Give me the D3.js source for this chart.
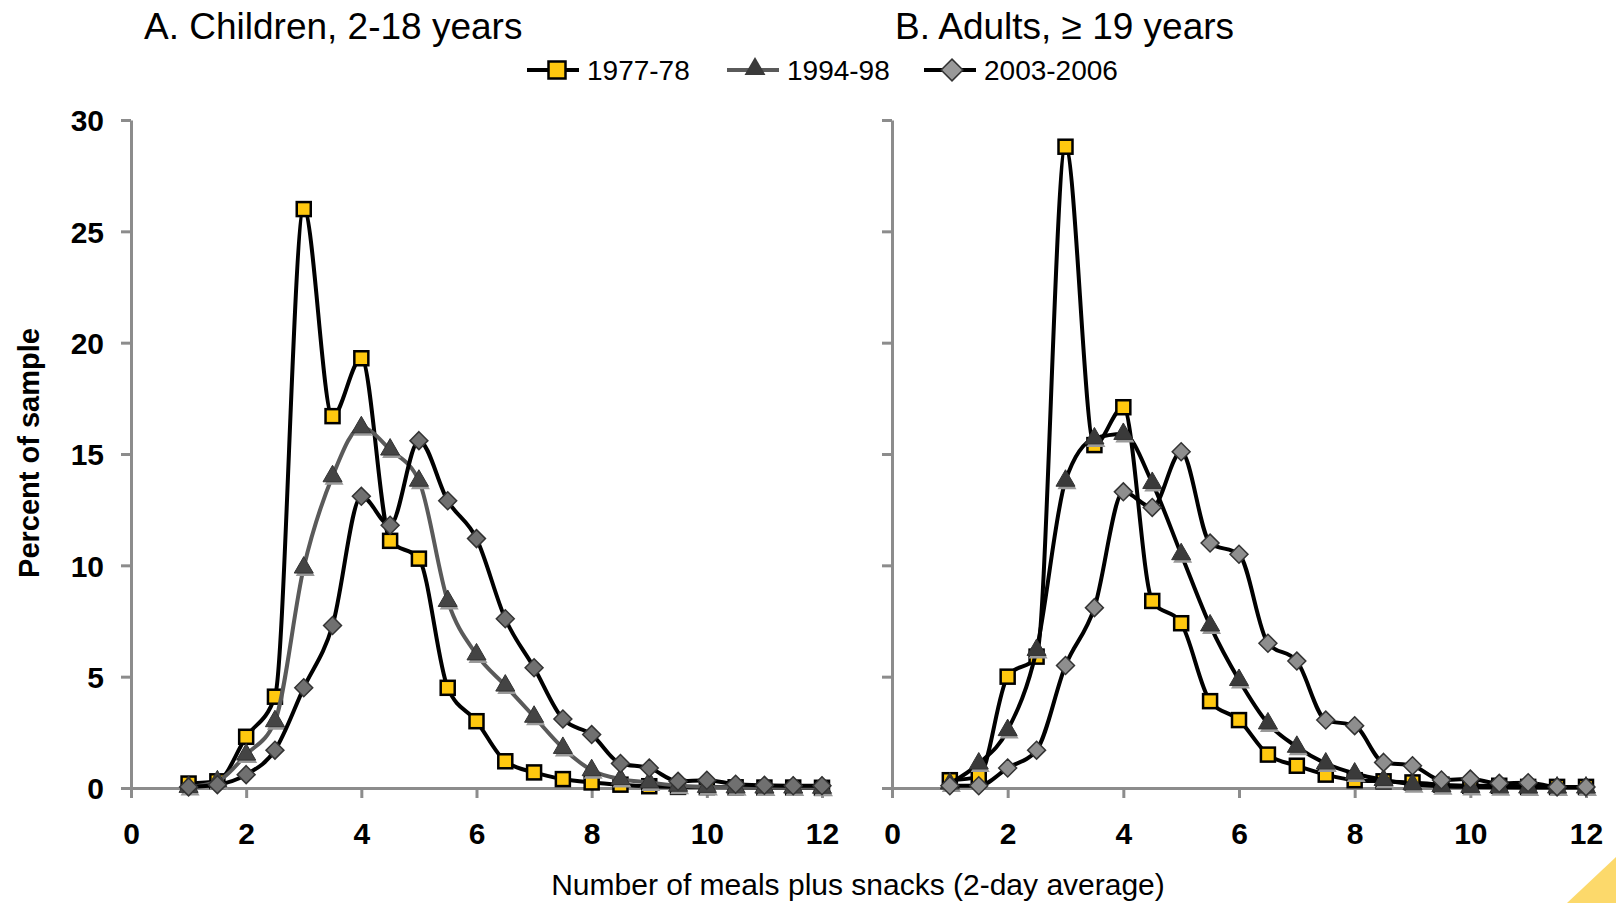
<!DOCTYPE html>
<html>
<head>
<meta charset="utf-8">
<script src="https://cdn.jsdelivr.net/npm/d3@7"></script>
<style>
  body { margin: 0; background: #fff; }
  svg { display: block; font-family: "Liberation Sans", Arial, sans-serif; }
</style>
</head>
<body>
<svg width="1616" height="903"></svg>
<script>
// meals plus snacks, 2-day average
var meals = [1, 1.5, 2, 2.5, 3, 3.5, 4, 4.5, 5, 5.5, 6, 6.5, 7, 7.5, 8, 8.5, 9, 9.5, 10, 10.5, 11, 11.5, 12];

var seriesNames = ["1977-78", "1994-98", "2003-2006"];
var panelTitles = ["A. Children, 2-18 years", "B. Adults, \u2265 19 years"];

var children7778 = [0.2, 0.3, 2.3, 4.1, 26.0, 16.7, 19.3, 11.1, 10.3, 4.5, 3.0, 1.2, 0.7, 0.4, 0.25, 0.15, 0.08, 0.05, 0.04, 0.03, 0.02, 0.02, 0.01];
var children9498 = [0.05, 0.3, 1.5, 3.0, 9.9, 14.0, 16.2, 15.2, 13.8, 8.4, 6.0, 4.6, 3.2, 1.8, 0.8, 0.4, 0.25, 0.1, 0.05, 0.03, 0.02, 0.02, 0.01];
var children0306 = [0.05, 0.15, 0.6, 1.7, 4.5, 7.3, 13.1, 11.8, 15.6, 12.9, 11.2, 7.6, 5.4, 3.1, 2.4, 1.1, 0.9, 0.3, 0.35, 0.17, 0.12, 0.1, 0.1];

var adults7778 = [0.35, 0.5, 5.0, 5.9, 28.8, 15.4, 17.1, 8.4, 7.4, 3.9, 3.05, 1.5, 1.0, 0.6, 0.35, 0.3, 0.25, 0.15, 0.1, 0.1, 0.05, 0.05, 0.05];
var adults9498 = [0.2, 1.1, 2.6, 6.2, 13.8, 15.7, 15.9, 13.7, 10.5, 7.3, 4.85, 2.9, 1.85, 1.1, 0.65, 0.36, 0.17, 0.08, 0.05, 0.03, 0.02, 0.02, 0.02];
var adults0306 = [0.1, 0.1, 0.9, 1.7, 5.5, 8.1, 13.3, 12.6, 15.1, 11.0, 10.5, 6.5, 5.7, 3.05, 2.8, 1.15, 1.0, 0.36, 0.4, 0.21, 0.24, 0.05, 0.05];

var yTicks = [0, 5, 10, 15, 20, 25, 30];
var xTicks = [0, 2, 4, 6, 8, 10, 12];

var svg = d3.select("svg");
var axisColor = "#8c8c8c";
var yellow = "#ffc80f";

var y = d3.scaleLinear().domain([0, 30]).range([788, 120]);

var panels = [
  {title: panelTitles[0], titleX: 144, range: [131, 822], labels: true,
   data: [children7778, children9498, children0306],
   lineColor: ["#000", "#5a5a5a", "#000"], markFill: [yellow, "#444", "#707070"]},
  {title: panelTitles[1], titleX: 895, range: [892, 1586], labels: false,
   data: [adults7778, adults9498, adults0306],
   lineColor: ["#000", "#000", "#000"], markFill: [yellow, "#3a3a3a", "#8e8e8e"]}
];

function marker(sel, k, fill, size) {
  if (k === 0) {
    sel.append("rect").attr("x", -size / 2).attr("y", -size / 2)
      .attr("width", size).attr("height", size)
      .attr("fill", fill).attr("stroke", "#000").attr("stroke-width", 2.5);
  } else if (k === 1) {
    sel.append("path").attr("d", d3.symbol(d3.symbolTriangle, size * size * 0.8)())
      .attr("transform", "translate(1.5,3)").attr("fill", "#9a9a9a");
    sel.append("path").attr("d", d3.symbol(d3.symbolTriangle, size * size * 0.8)())
      .attr("fill", fill).attr("stroke", "#333").attr("stroke-width", 1);
  } else {
    var r = size * 0.64;
    sel.append("path").attr("d", "M0," + (-r) + "L" + r + ",0L0," + r + "L" + (-r) + ",0Z")
      .attr("fill", fill).attr("stroke", "#333").attr("stroke-width", 1.5);
  }
}

panels.forEach(function(p) {
  var x = d3.scaleLinear().domain([0, 12]).range(p.range);
  var g = svg.append("g");

  g.append("text").attr("x", p.titleX).attr("y", 39)
    .attr("font-size", 37).attr("fill", "#000").text(p.title);

  var yAxis = d3.axisLeft(y).tickValues(yTicks).tickSize(10).tickSizeOuter(0)
    .tickFormat(p.labels ? d3.format("d") : "");
  var ya = g.append("g").attr("transform", "translate(" + p.range[0] + ",0)").call(yAxis);

  var xAxis = d3.axisBottom(x).tickValues(xTicks).tickSize(10).tickSizeOuter(0);
  var xa = g.append("g").attr("transform", "translate(0," + y(0) + ")").call(xAxis);

  [ya, xa].forEach(function(a) {
    a.selectAll("path, line").attr("stroke", axisColor).attr("stroke-width", 3);
    a.selectAll("text").attr("fill", "#000").attr("font-size", 30).attr("font-weight", "bold")
      .attr("font-family", "'Liberation Sans', Arial, sans-serif");
  });
  ya.selectAll("text").attr("x", -27).attr("dy", "0.36em");
  xa.selectAll("text").attr("y", 45).attr("dy", "0.36em");

  var line = d3.line()
    .x(function(d, i) { return x(meals[i]); })
    .y(function(d) { return y(d); })
    .curve(d3.curveMonotoneX);

  p.data.forEach(function(vals, k) {
    g.append("path").datum(vals).attr("d", line)
      .attr("fill", "none").attr("stroke", p.lineColor[k]).attr("stroke-width", 4)
      .attr("stroke-linejoin", "round");
    g.selectAll(".m" + k).data(vals).enter().append("g")
      .attr("class", "m" + k)
      .attr("transform", function(d, i) { return "translate(" + x(meals[i]) + "," + y(d) + ")"; })
      .each(function() { marker(d3.select(this), k, p.markFill[k], 14); });
  });
});

// legend
var legendX = [527, 727, 924];
var legendLine = ["#000", "#5a5a5a", "#000"];
var legendFill = [yellow, "#3a3a3a", "#999"];
seriesNames.forEach(function(name, k) {
  var lg = svg.append("g").attr("transform", "translate(" + legendX[k] + ",70)");
  lg.append("line").attr("x1", 0).attr("x2", 52).attr("stroke", legendLine[k]).attr("stroke-width", 4);
  var m = lg.append("g").attr("transform", "translate(" + (k === 0 ? 30 : 28) + ",0)");
  if (k === 1) {
    m.append("path").attr("d", d3.symbol(d3.symbolTriangle, 190)()).attr("transform", "translate(0,-1)").attr("fill", legendFill[k]);
  } else {
    marker(m, k, legendFill[k], 17);
  }
  lg.append("text").attr("x", 60).attr("dy", "0.36em").attr("font-size", 28).attr("fill", "#000").text(name);
});

// axis titles
svg.append("text").attr("transform", "translate(29,453) rotate(-90)")
  .attr("text-anchor", "middle").attr("dy", "0.36em")
  .attr("font-size", 29).attr("font-weight", "bold").attr("fill", "#000")
  .text("Percent of sample");

svg.append("text").attr("x", 858).attr("y", 884).attr("text-anchor", "middle").attr("dy", "0.36em")
  .attr("font-size", 30).attr("fill", "#000")
  .text("Number of meals plus snacks (2-day average)");

// corner decoration
svg.append("path").attr("d", "M1567,903L1616,857L1616,903Z").attr("fill", "#fcd96b");
</script>
</body>
</html>
